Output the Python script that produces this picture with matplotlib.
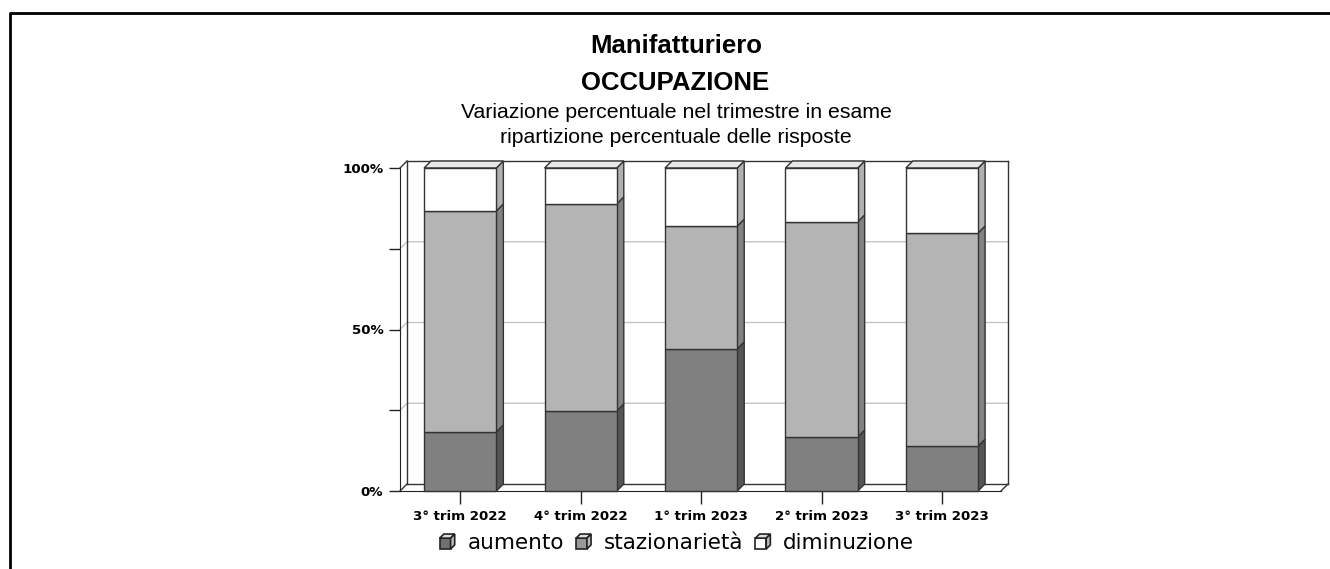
import matplotlib.pyplot as plt
from matplotlib.patches import Polygon, Rectangle
from matplotlib.lines import Line2D
from matplotlib.legend_handler import HandlerBase

# Data (percent of answers)
quarters = ['3° trim 2022', '4° trim 2022', '1° trim 2023', '2° trim 2023', '3° trim 2023']
aumento = [18.3, 24.8, 44.0, 16.7, 13.9]
stazionarieta = [68.4, 64.1, 38.0, 66.6, 66.0]
diminuzione = [13.3, 11.1, 18.0, 16.7, 20.1]
series_names = ['aumento', 'stazionarietà', 'diminuzione']

W, H = 1330, 569
fig = plt.figure(figsize=(W / 100, H / 100), dpi=100)

# outer frame (top and left only)
fig.add_artist(Line2D([9.5 / W, 9.5 / W, 1], [0, 1 - 13 / H, 1 - 13 / H],
                      transform=fig.transFigure, color='black', lw=2.0))

# titles (positioned by baseline)
fig.text(676 / W, 1 - 53 / H, 'Manifatturiero', ha='center', va='baseline',
         fontsize=18.5, fontweight='bold', family='Liberation Sans')
fig.text(675 / W, 1 - 90 / H, 'OCCUPAZIONE', ha='center', va='baseline',
         fontsize=18.5, fontweight='bold', family='Liberation Sans')
fig.text(676 / W, 1 - 118 / H, 'Variazione percentuale nel trimestre in esame',
         ha='center', va='baseline', fontsize=15.3, family='Liberation Sans')
fig.text(676 / W, 1 - 143 / H, 'ripartizione percentuale delle risposte',
         ha='center', va='baseline', fontsize=15.3, family='Liberation Sans')

# axes = front plot area
left, right, top, bottom = 400, 1001, 168, 491
ax = fig.add_axes([left / W, 1 - bottom / H, (right - left) / W, (bottom - top) / H])
x0, x1 = -0.5, 4.49
ax.set_xlim(x0, x1)
ax.set_ylim(0, 100)
for s in ['top', 'right']:
    ax.spines[s].set_visible(False)
ax.spines['left'].set_color('#222222')
ax.spines['bottom'].set_color('#222222')
ax.patch.set_alpha(0)

# depth offsets in data units
ddx = 7 / 120.5
ddy = 7 / 323 * 100

edge = '#333333'
kw = dict(clip_on=False, lw=1.0)

# back wall frame
ax.plot([x0 + ddx, x0 + ddx], [ddy, 100 + ddy], color=edge, **kw)
ax.plot([x0 + ddx, x1 + ddx], [100 + ddy, 100 + ddy], color=edge, **kw)
ax.plot([x1 + ddx, x1 + ddx], [ddy, 100 + ddy], color=edge, **kw)
ax.plot([x0, x0 + ddx], [100, 100 + ddy], color=edge, **kw)
ax.plot([x0, x0 + ddx], [0, ddy], color=edge, **kw)
ax.plot([x0 + ddx, x1 + ddx], [ddy, ddy], color=edge, **kw)
ax.plot([x1, x1 + ddx], [0, ddy], color=edge, **kw)

# grid lines on the back wall
for g in [25, 50, 75]:
    ax.plot([x0, x0 + ddx, x1 + ddx], [g, g + ddy, g + ddy], color='#c4c4c4', zorder=0.5, **kw)

front = ['#808080', '#b4b4b4', '#ffffff']
side = ['#555555', '#828282', '#b0b0b0']
topc = '#e8e8e8'
bw = 0.6

for i in range(len(quarters)):
    vals = [aumento[i], stazionarieta[i], diminuzione[i]]
    base = 0
    xl, xr = i - bw / 2, i + bw / 2
    for k, v in enumerate(vals):
        ax.add_patch(Rectangle((xl, base), bw, v, facecolor=front[k], edgecolor=edge, lw=1.0,
                               zorder=3, clip_on=False))
        ax.add_patch(Polygon([(xr, base), (xr + ddx, base + ddy), (xr + ddx, base + v + ddy), (xr, base + v)],
                             closed=True, facecolor=side[k], edgecolor=edge, lw=1.0, zorder=2,
                             clip_on=False))
        base += v
    ax.add_patch(Polygon([(xl, base), (xl + ddx, base + ddy), (xr + ddx, base + ddy), (xr, base)],
                         closed=True, facecolor=topc, edgecolor=edge, lw=1.0, zorder=2, clip_on=False))

ax.set_xticks(range(len(quarters)))
ax.set_xticklabels(quarters, fontsize=9.6, fontweight='bold')
ax.set_yticks([0, 25, 50, 75, 100])
ax.set_yticklabels(['0%', '', '50%', '', '100%'], fontsize=9.6, fontweight='bold')
ax.tick_params(axis='x', length=9, width=1, color='#222222', pad=5)
ax.tick_params(axis='y', length=8, width=1, color='#222222', pad=4)


# small cube icons for the legend
class CubeHandler(HandlerBase):
    def create_artists(self, legend, orig_handle, xdescent, ydescent, width, height, fontsize, trans):
        s = height * 0.72
        d = s * 0.38
        x = xdescent + (width - s - d) / 2
        y = -ydescent
        fc = orig_handle.get_facecolor()
        face = Rectangle((x, y), s, s, facecolor=fc, edgecolor='#222222', lw=1.2, transform=trans)
        tp = Polygon([(x, y + s), (x + d, y + s + d), (x + s + d, y + s + d), (x + s, y + s)],
                     closed=True, facecolor='#dddddd', edgecolor='#222222', lw=1.2, transform=trans)
        sd = Polygon([(x + s, y), (x + s + d, y + d), (x + s + d, y + s + d), (x + s, y + s)],
                     closed=True, facecolor='#bbbbbb', edgecolor='#222222', lw=1.2, transform=trans)
        return [face, tp, sd]


handles = [Rectangle((0, 0), 1, 1, facecolor=c) for c in ['#707070', '#999999', '#ffffff']]
leg = fig.legend(handles, series_names, loc='center', bbox_to_anchor=(677 / W, 1 - 543 / H),
                 ncol=3, frameon=False, fontsize=15.5, handler_map={Rectangle: CubeHandler()},
                 handlelength=0.7, handletextpad=0.6, columnspacing=0.55, borderpad=0)

fig.savefig('out.png', dpi=100)
